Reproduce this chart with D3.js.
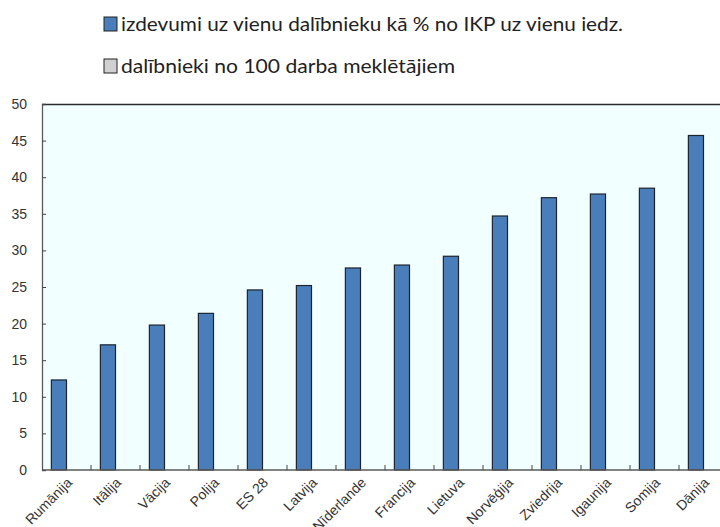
<!DOCTYPE html>
<html>
<head>
<meta charset="utf-8">
<script src="https://cdn.jsdelivr.net/npm/d3@7"></script>
<style>
  html, body { margin: 0; padding: 0; background: #ffffff; }
  svg { display: block; }
</style>
</head>
<body>
<svg id="chart" width="720" height="527"></svg>
<script>
// Countries along the x axis
const countries = ["Rumānija", "Itālija", "Vācija", "Polija", "ES 28", "Latvija", "Nīderlande",
  "Francija", "Lietuva", "Norvēģija", "Zviedrija", "Igaunija", "Somija", "Dānija"];
// Spending per participant as % of GDP per capita
const spending = [12.3, 17.1, 19.8, 21.4, 24.6, 25.2, 27.6, 28.0, 29.2, 34.7, 37.2, 37.7, 38.5, 45.7];
// Participants per 100 jobseekers (series present in legend, no values shown)
const participants = [];
const seriesNames = ["izdevumi uz vienu dalībnieku kā % no IKP uz vienu iedz.",
  "dalībnieki no 100 darba meklētājiem"];
const seriesColors = ["#4a7ebb", "#d0d0d0"];
const legendWidths = [502, 334];
const yTicks = [0, 5, 10, 15, 20, 25, 30, 35, 40, 45, 50];

const svg = d3.select("#chart");
const plot = { left: 42, top: 104, right: 728, bottom: 470 };

const x = d3.scaleBand().domain(countries).range([plot.left, plot.right]).paddingInner(0).paddingOuter(0);
const slot = d3.scaleBand().domain(seriesNames).range([0, x.bandwidth()]).paddingInner(0).paddingOuter(0.62);
const y = d3.scaleLinear().domain([0, 50]).range([plot.bottom, plot.top]);

// plot background
svg.append("rect")
  .attr("x", plot.left).attr("y", plot.top)
  .attr("width", plot.right - plot.left).attr("height", plot.bottom - plot.top)
  .attr("fill", "#f2ffff");

// top border
svg.append("line")
  .attr("x1", plot.left).attr("x2", plot.right)
  .attr("y1", plot.top + 0.5).attr("y2", plot.top + 0.5)
  .attr("stroke", "#2b2b2b").attr("stroke-width", 1.3);

// bars
svg.append("g").selectAll("rect")
  .data(countries.map((c, i) => ({ c, v: spending[i] })))
  .join("rect")
  .attr("x", d => x(d.c) + slot(seriesNames[0]))
  .attr("y", d => y(d.v))
  .attr("width", slot.bandwidth())
  .attr("height", d => y(0) - y(d.v))
  .attr("fill", seriesColors[0])
  .attr("stroke", "#1c2430")
  .attr("stroke-width", 1.2);

// y axis
const yAxis = svg.append("g")
  .attr("transform", `translate(${plot.left},0)`)
  .call(d3.axisRight(y).tickValues(yTicks).tickSize(4).tickFormat(""));
yAxis.select(".domain").attr("stroke", "#5a5a5a").attr("stroke-width", 1.3);
yAxis.selectAll(".tick line").attr("stroke", "#444");
svg.append("g").selectAll("text")
  .data(yTicks)
  .join("text")
  .attr("x", 27).attr("y", d => y(d))
  .attr("dy", "0.35em")
  .attr("text-anchor", "end")
  .attr("font-family", "Liberation Sans, Arial, sans-serif")
  .attr("font-size", 14)
  .attr("fill", "#333")
  .text(d => d);

// x axis with ticks between categories
const bounds = countries.map(c => x(c)).slice(1);
svg.append("line")
  .attr("x1", plot.left).attr("x2", plot.right)
  .attr("y1", plot.bottom).attr("y2", plot.bottom)
  .attr("stroke", "#5a5a5a").attr("stroke-width", 1.3);
svg.append("g").selectAll("line")
  .data(bounds)
  .join("line")
  .attr("x1", d => d).attr("x2", d => d)
  .attr("y1", plot.bottom).attr("y2", plot.bottom - 5)
  .attr("stroke", "#444");

svg.append("g").selectAll("text")
  .data(countries)
  .join("text")
  .attr("transform", d => `translate(${x(d) + x.bandwidth() / 2 + 3},${plot.bottom + 10}) rotate(-45)`)
  .attr("text-anchor", "end")
  .attr("dy", "0.35em")
  .attr("font-family", "Liberation Sans, Arial, sans-serif")
  .attr("font-size", 14)
  .attr("fill", "#333")
  .text(d => d);

// legend
const legend = svg.append("g").selectAll("g")
  .data(seriesNames)
  .join("g")
  .attr("transform", (d, i) => `translate(104,${17 + i * 42})`);
legend.append("rect")
  .attr("width", 13).attr("height", 14)
  .attr("fill", (d, i) => seriesColors[i])
  .attr("stroke", "#222").attr("stroke-width", 1);
legend.append("text")
  .attr("x", 17).attr("y", 13.5)
  .attr("font-family", "Lato, sans-serif")
  .attr("font-size", 20)
  .attr("fill", "#222")
  .attr("textLength", (d, i) => legendWidths[i])
  .attr("lengthAdjust", "spacingAndGlyphs")
  .text(d => d);
</script>
</body>
</html>
